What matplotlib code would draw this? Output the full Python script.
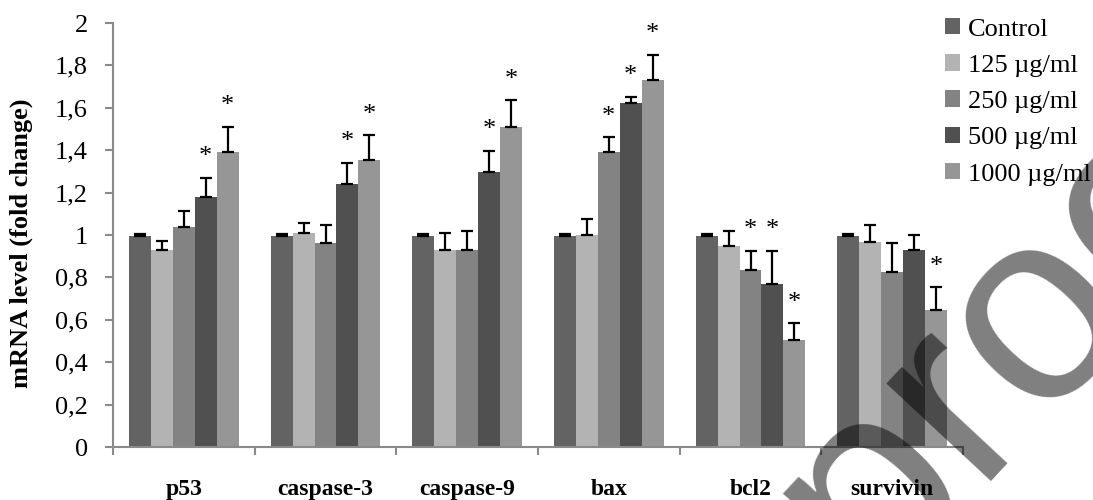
import matplotlib
matplotlib.use("Agg")
import matplotlib.pyplot as plt
import numpy as np

GENES = ["p53", "caspase-3", "caspase-9", "bax", "bcl2", "survivin"]
DOSES = ["Control", "125 µg/ml", "250 µg/ml", "500 µg/ml", "1000 µg/ml"]
COLORS = ["#636363", "#b3b3b3", "#838383", "#505050", "#969696"]

# fold change per dose, one list per dose (order of GENES)
control = [0.995, 0.995, 0.995, 0.995, 0.995, 0.995]
d125 = [0.93, 1.01, 0.93, 1.00, 0.947, 0.966]
d250 = [1.04, 0.963, 0.93, 1.39, 0.835, 0.825]
d500 = [1.18, 1.24, 1.295, 1.623, 0.77, 0.93]
d1000 = [1.39, 1.352, 1.51, 1.73, 0.505, 0.645]

# upper error (SD) per dose
err_control = [0.008, 0.008, 0.008, 0.008, 0.008, 0.008]
err_125 = [0.04, 0.046, 0.08, 0.075, 0.073, 0.081]
err_250 = [0.073, 0.083, 0.09, 0.07, 0.09, 0.138]
err_500 = [0.09, 0.10, 0.102, 0.027, 0.155, 0.07]
err_1000 = [0.12, 0.118, 0.125, 0.12, 0.078, 0.108]

# significance marks (1 = asterisk)
sig_control = [0, 0, 0, 0, 0, 0]
sig_125 = [0, 0, 0, 0, 0, 0]
sig_250 = [0, 0, 0, 1, 1, 0]
sig_500 = [1, 1, 1, 1, 1, 0]
sig_1000 = [1, 1, 1, 1, 1, 1]

VALUES = [control, d125, d250, d500, d1000]
ERRORS = [err_control, err_125, err_250, err_500, err_1000]
SIGS = [sig_control, sig_125, sig_250, sig_500, sig_1000]

SERIF = "Liberation Serif"
AXIS_GREY = "#8a8a8a"

fig = plt.figure(figsize=(10.93, 5.0), dpi=100)
ax = fig.add_axes([113 / 1093, 1 - 447 / 500, 850 / 1093, 424 / 500])

x = np.arange(len(GENES))
w = 0.155
for i, (vals, errs, sigs) in enumerate(zip(VALUES, ERRORS, SIGS)):
    xs = x + (i - 2) * w
    ax.bar(xs, vals, w, color=COLORS[i], label=DOSES[i], zorder=2)
    ax.errorbar(xs, vals, yerr=[np.zeros(len(errs)), errs], fmt="none",
                ecolor="black", elinewidth=1.6, capsize=4.5, capthick=1.6, zorder=3)
    for xi, v, e, s in zip(xs, vals, errs, sigs):
        if s:
            ax.annotate("*", (xi, v + e), xytext=(0, 15), textcoords="offset points",
                        ha="center", va="center", fontsize=19, family=SERIF)

ax.set_xlim(-0.5, len(GENES) - 0.5)
ax.set_ylim(0, 2)
ax.set_yticks(np.arange(0, 2.01, 0.2))
ax.set_yticklabels([f"{round(v, 1):g}".replace(".", ",") for v in np.arange(0, 2.01, 0.2)],
                   family=SERIF, fontsize=19)
ax.set_xticks(np.arange(-0.5, len(GENES)), labels=[""] * (len(GENES) + 1))
ax.set_xticks(x, minor=True)
ax.set_xticklabels(GENES, minor=True, family=SERIF, fontsize=17, fontweight="bold")
ax.tick_params(axis="x", which="major", length=6, width=1.5, color=AXIS_GREY, direction="out")
ax.tick_params(axis="x", which="minor", length=0, pad=23)
ax.tick_params(axis="y", length=6, width=1.5, color=AXIS_GREY, pad=12)
for side in ("top", "right"):
    ax.spines[side].set_visible(False)
for side in ("left", "bottom"):
    ax.spines[side].set_color(AXIS_GREY)
    ax.spines[side].set_linewidth(1.5)

ax.set_ylabel("mRNA level (fold change)", family=SERIF, fontsize=19, fontweight="bold")
ax.yaxis.set_label_coords(-0.094, 0.48)

leg = fig.legend(loc="upper left", bbox_to_anchor=(945 / 1093, 1 - 18 / 500), frameon=False,
                 prop={"family": SERIF, "size": 19}, handlelength=0.58, handleheight=0.58,
                 handletextpad=0.3, labelspacing=0.52, borderpad=0, borderaxespad=0)

# "proof" watermark over the figure
fig.text(870 / 1093, 1 - 592 / 500, "proof", rotation=47, rotation_mode="anchor",
         ha="left", va="baseline", fontsize=196, family="Liberation Sans",
         color="black", alpha=0.5, zorder=10)

fig.savefig("out.png", dpi=100)
